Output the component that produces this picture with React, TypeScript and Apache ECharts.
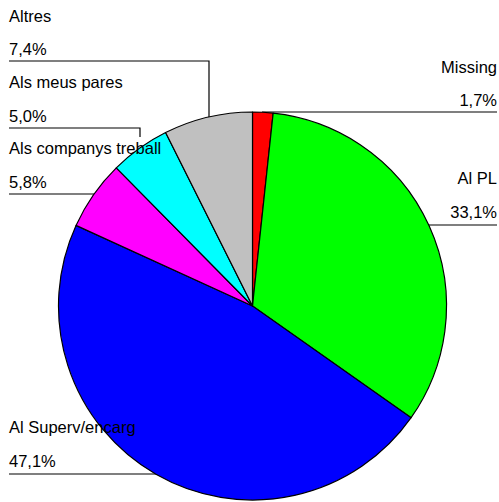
import React, { useEffect, useRef } from "react";
import * as echarts from "echarts";

const categories = ["Missing", "Al PL", "Al Superv/encarg", "Als companys treball", "Als meus pares", "Altres"];
const percents = [1.7, 33.1, 47.1, 5.8, 5.0, 7.4];
const colors = ["#ff0000", "#00ff00", "#0000ff", "#ff00ff", "#00ffff", "#c0c0c0"];

// label layout: side, name y, value y, leader line points
const labelLayout = [
  { side: "right", ny: 67, vy: 100, line: [[497, 112], [262, 112]] },
  { side: "right", ny: 178, vy: 212, line: [[497, 225], [400, 225]] },
  { side: "left", ny: 427, vy: 461, line: [[9, 474], [200, 474]] },
  { side: "left", ny: 148, vy: 182, line: [[9, 194], [140, 194]] },
  { side: "left", ny: 82, vy: 116, line: [[9, 128], [140, 128], [140, 137]] },
  { side: "left", ny: 16, vy: 49, line: [[9, 61], [209, 61], [209, 140]] },
];

const fmt = (v: number) => v.toFixed(1).replace(".", ",") + "%";

export default function App() {
  const ref = useRef<HTMLDivElement>(null);
  useEffect(() => {
    const chart = echarts.init(ref.current!, null, { renderer: "svg" });
    const font = "Liberation Sans, Arial, sans-serif";
    const graphics: any[] = [];
    categories.forEach((name, i) => {
      const l = labelLayout[i];
      const x = l.side === "right" ? 497 : 9;
      const align = l.side === "right" ? "right" : "left";
      graphics.push({
        type: "polyline", z: 0,
        shape: { points: l.line },
        style: { stroke: "#000", lineWidth: 1.2, fill: "none" },
      });
      graphics.push({
        type: "text", x, y: l.ny, z: 100,
        style: { text: name, fill: "#000", font: `16.5px ${font}`, align, verticalAlign: "middle" },
      });
      graphics.push({
        type: "text", x, y: l.vy, z: 100,
        style: { text: fmt(percents[i]), fill: "#000", font: `16.5px ${font}`, align, verticalAlign: "middle" },
      });
    });
    chart.setOption({
      animation: false,
      backgroundColor: "#ffffff",
      graphic: graphics,
      series: [
        {
          type: "pie",
          z: 10,
          center: [252.5, 306],
          radius: [0, 194],
          startAngle: 90,
          clockwise: true,
          label: { show: false },
          labelLine: { show: false },
          emphasis: { disabled: true },
          itemStyle: { borderColor: "#000", borderWidth: 1.2 },
          data: categories.map((name, i) => ({
            name,
            value: percents[i],
            itemStyle: { color: colors[i] },
          })),
        },
      ],
    });
    return () => chart.dispose();
  }, []);
  return (
    <div
      ref={ref}
      style={{ position: "absolute", left: 0, top: 0, width: 499, height: 502 }}
    />
  );
}
